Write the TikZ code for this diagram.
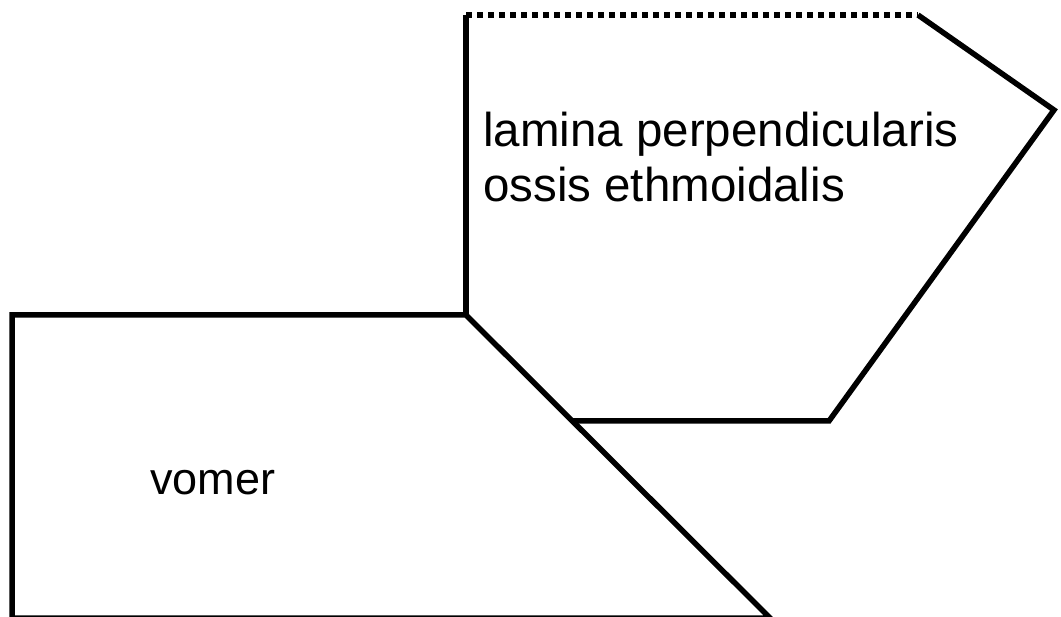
\documentclass[tikz,border=0pt]{standalone}
\usepackage{fontspec}
\setmainfont{Liberation Sans}
\usetikzlibrary{positioning}

\begin{document}
\begin{tikzpicture}[
    x=1pt, y=-1pt,
    boneline/.style={line width=5.5pt, black},
    openedge/.style={line width=5.5pt, black, dash pattern=on 5.5pt off 5.5pt},
    bonelabel/.style={inner sep=0pt, anchor=base west, align=left}
  ]
    \useasboundingbox (0,0) rectangle (1061,617);

    % Vomer
    \coordinate (vtl) at (12,315);
    \coordinate (vtr) at (466,315);
    \coordinate (vbl) at (12,618);
    \coordinate (vbr) at (770,618);
    \draw[boneline] (vtr) -- (vtl) -- (vbl) -- (vbr) -- cycle;
    \node[bonelabel, font=\fontsize{45}{52}\selectfont] (vomer) at (150,495) {vomer};

    % Lamina perpendicularis
    \coordinate (ltl) at (466,15);
    \coordinate (ltr) at (918,15);
    \coordinate (lr) at (1054,110);
    \coordinate (lbr) at (829,421);
    \coordinate (lbl) at (572,421);
    \draw[boneline] (vtr) -- (ltl);
    \draw[openedge] (ltl) -- (ltr);
    \draw[boneline] (ltr) -- (lr) -- (lbr) -- (lbl);
    % base anchor sits on the last line
    \node[bonelabel, font=\fontsize{47.5}{55}\selectfont] (lamina) at (483,202)
      {lamina perpendicularis\\ossis ethmoidalis};
  \end{tikzpicture}
\end{document}
